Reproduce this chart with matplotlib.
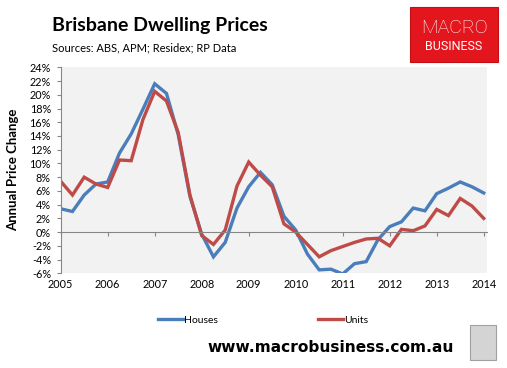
import matplotlib
matplotlib.use('Agg')
import matplotlib.pyplot as plt
from matplotlib.patches import Rectangle
import numpy as np

# quarterly annual price change, 2005 Q1 .. 2014 Q1
start_year = 2005
houses = [3.4, 3.0, 5.4, 7.0, 7.3, 11.5, 14.3, 17.9, 21.6, 20.2, 14.2, 5.2, -0.3,
          -3.6, -1.5, 3.5, 6.6, 8.7, 6.9, 2.3, 0.3, -3.2, -5.5, -5.4, -6.1, -4.6,
          -4.3, -1.1, 0.8, 1.5, 3.5, 3.1, 5.6, 6.4, 7.3, 6.6, 5.7]
units = [7.4, 5.4, 8.0, 7.0, 6.5, 10.5, 10.4, 16.4, 20.5, 19.1, 14.5, 5.4, -0.5,
         -1.8, 0.3, 6.7, 10.2, 8.3, 6.6, 1.2, 0.0, -1.8, -3.6, -2.7, -2.1, -1.5,
         -1.0, -0.9, -2.0, 0.4, 0.2, 0.9, 3.3, 2.4, 4.9, 3.8, 2.0]
year_ticks = list(range(2005, 2015))
pct_ticks = list(range(-6, 25, 2))

x = start_year + np.arange(len(houses)) / 4.0

plt.rcParams['font.family'] = ['Lato', 'DejaVu Sans']
W, H = 507, 368
fig = plt.figure(figsize=(W / 100, H / 100), dpi=100)
ax = fig.add_axes([60.7 / W, 1 - 273.3 / H, (487 - 60.7) / W, (273.3 - 67.3) / H])
ax.set_facecolor('#F2F2F2')

ax.plot(x, houses, color='#4A7EBB', lw=2.4, label='Houses', solid_joinstyle='miter')
ax.plot(x, units, color='#BE4B48', lw=2.4, label='Units', solid_joinstyle='miter')

ax.set_xlim(2005, 2014.07)
ax.set_ylim(-6, 24)
ax.set_yticks(pct_ticks)
ax.set_yticklabels([f'{v}%' for v in pct_ticks])
ax.set_xticks(year_ticks)
ax.set_xticklabels([str(y) for y in year_ticks])

for s in ['top', 'right']:
    ax.spines[s].set_visible(False)
ax.spines['left'].set_color('#868686')
ax.spines['bottom'].set_color('#868686')
ax.spines['bottom'].set_position(('data', 0))
ax.tick_params(axis='y', direction='out', length=3, color='#868686',
               labelsize=7.8, pad=4, labelcolor='black')
ax.tick_params(axis='x', direction='out', length=3, color='#868686',
               labelsize=7.8, pad=31, labelcolor='black')

ax.set_ylabel('Annual Price Change', fontsize=9.5, fontweight='bold')
ax.yaxis.set_label_coords(-0.097, 0.5)

fig.text(52 / W, 1 - 25 / H, 'Brisbane Dwelling Prices', fontsize=14,
         fontweight='bold', va='center', ha='left')
fig.text(52 / W, 1 - 48 / H, 'Sources: ABS, APM; Residex; RP Data', fontsize=8,
         va='center', ha='left')

# logo box
fig.patches.append(Rectangle((410 / W, 1 - 62 / H), 88 / W, 55 / H,
                             transform=fig.transFigure, facecolor='#E3161E',
                             edgecolor='#C40F16', lw=0.8))
fig.text(454 / W, 1 - 28 / H, 'MACRO', color='white', fontsize=14,
         ha='center', va='center', family=['Roboto', 'DejaVu Sans'], fontweight='light')
fig.text(454 / W, 1 - 46 / H, 'BUSINESS', color='white', fontsize=9,
         ha='center', va='center', family=['Roboto', 'DejaVu Sans'])

fig.legend(loc='center', bbox_to_anchor=(263 / W, 1 - 320 / H), ncol=2,
           frameon=False, fontsize=7.5, handlelength=2.4, handletextpad=0.1,
           columnspacing=9.6)

fig.text(331 / W, 1 - 348 / H, 'www.macrobusiness.com.au', fontsize=11.1,
         fontweight='bold', ha='center', va='center', family=['DejaVu Sans'])

# wolf picture placeholder
fig.patches.append(Rectangle((470 / W, 1 - 360 / H), 26 / W, 35 / H,
                             transform=fig.transFigure, facecolor='#D4D4D4',
                             edgecolor='#A0A0A0', lw=0.8))

fig.savefig('out.png', dpi=100)
